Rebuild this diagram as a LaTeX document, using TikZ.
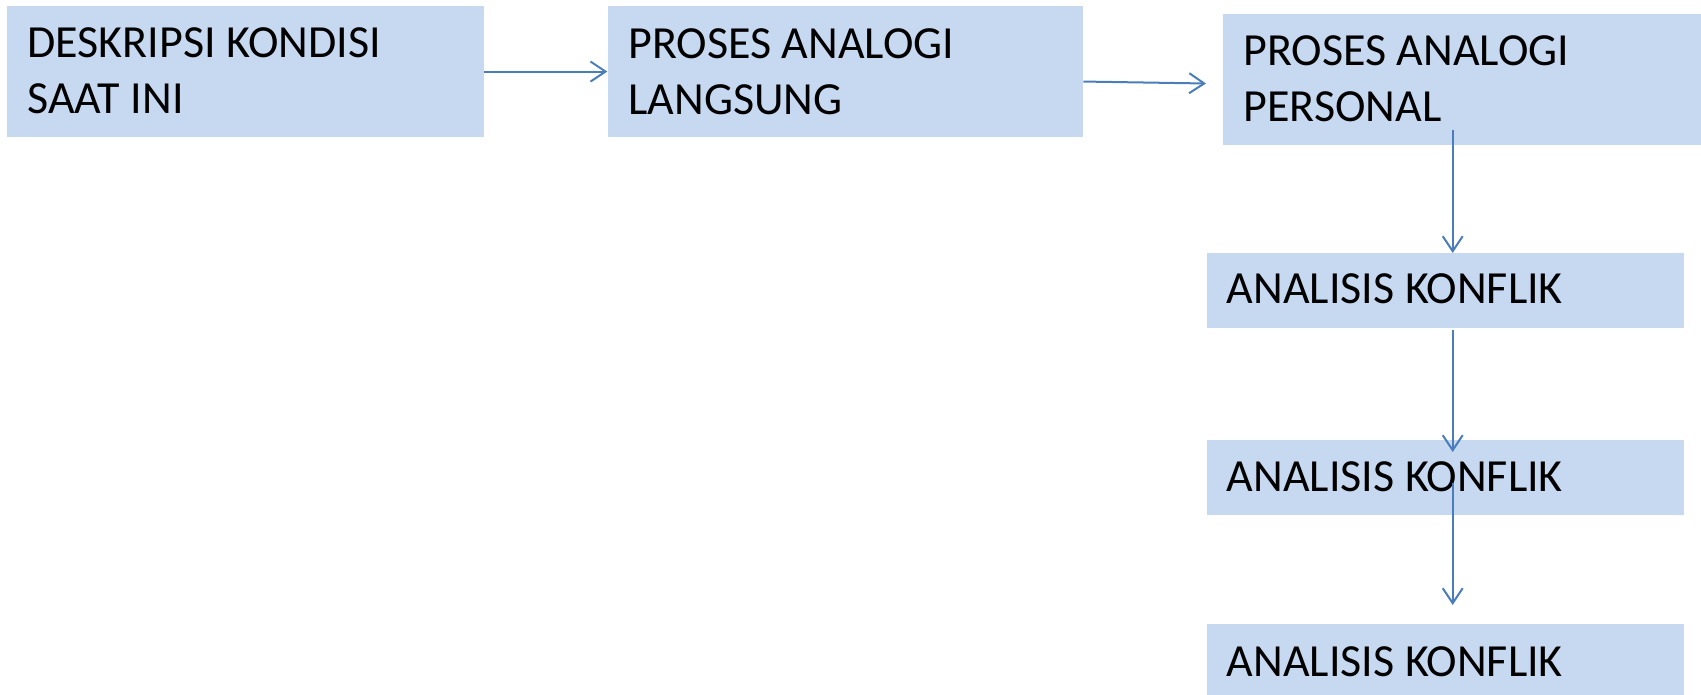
\documentclass[tikz,border=0pt]{standalone}
\usepackage{fontspec}
\setmainfont{Carlito}
\usetikzlibrary{arrows.meta}
\definecolor{boxfill}{HTML}{C6D9F1}
\definecolor{arrowblue}{HTML}{4A7EBB}
\tikzset{
  box/.style={fill=boxfill, draw=none, inner sep=0pt, anchor=north west},
  lbl/.style={inner sep=0pt, anchor=base west, align=left, text=black,
    font=\fontsize{46}{56}\selectfont},
  conn/.style={draw=arrowblue, line width=2pt,
    -{Straight Barb[length=15pt,width=20pt,line width=2pt]}}
}
\begin{document}
\begin{tikzpicture}[x=1pt,y=-1pt]
\useasboundingbox (0,0) rectangle (1701,695);
\clip (0,0) rectangle (1701,695);
% boxes
\node[box, minimum width=477pt, minimum height=130.7pt] (b1) at (6.7,6) {};
\node[box, minimum width=475.7pt, minimum height=130.7pt] (b2) at (607.3,6) {};
\node[box, minimum width=490pt, minimum height=131pt] (b3) at (1222.3,14) {};
\node[box, minimum width=477.3pt, minimum height=75pt] (b4) at (1206.7,253) {};
\node[box, minimum width=477.3pt, minimum height=74.7pt] (b5) at (1206.7,440) {};
\node[box, minimum width=477.3pt, minimum height=90pt] (b6) at (1206.7,624) {};
% texts (anchor at baseline of last line)
\node[lbl] (t1) at (27.3,114) {DESKRIPSI KONDISI\\SAAT INI};
\node[lbl] (t2) at (628.3,115) {PROSES ANALOGI\\LANGSUNG};
\node[lbl] (t3) at (1243.3,121.7) {PROSES ANALOGI\\PERSONAL};
\node[lbl] (t4) at (1226.7,304) {ANALISIS KONFLIK};
\node[lbl] (t5) at (1226.7,491.7) {ANALISIS KONFLIK};
\node[lbl] (t6) at (1226.7,676.7) {ANALISIS KONFLIK};
% connector end points
\coordinate (a2e) at (1206,83.5);
\coordinate (v1s) at (1452.7,130);
\coordinate (v2e) at (1452.7,452);
\coordinate (v3s) at (1452.7,483);
\coordinate (v3e) at (1452.7,605);
% connectors
\draw[conn] (b1.east) -- (b2.west);
\draw[conn] ([yshift=-10pt]b2.east) -- (a2e);
\draw[conn] (v1s) -- (v1s |- b4.north);
\draw[conn] ([yshift=-2pt]v1s |- b4.south) -- (v2e);
\draw[conn] (v3s) -- (v3e);
\end{tikzpicture}
\end{document}
